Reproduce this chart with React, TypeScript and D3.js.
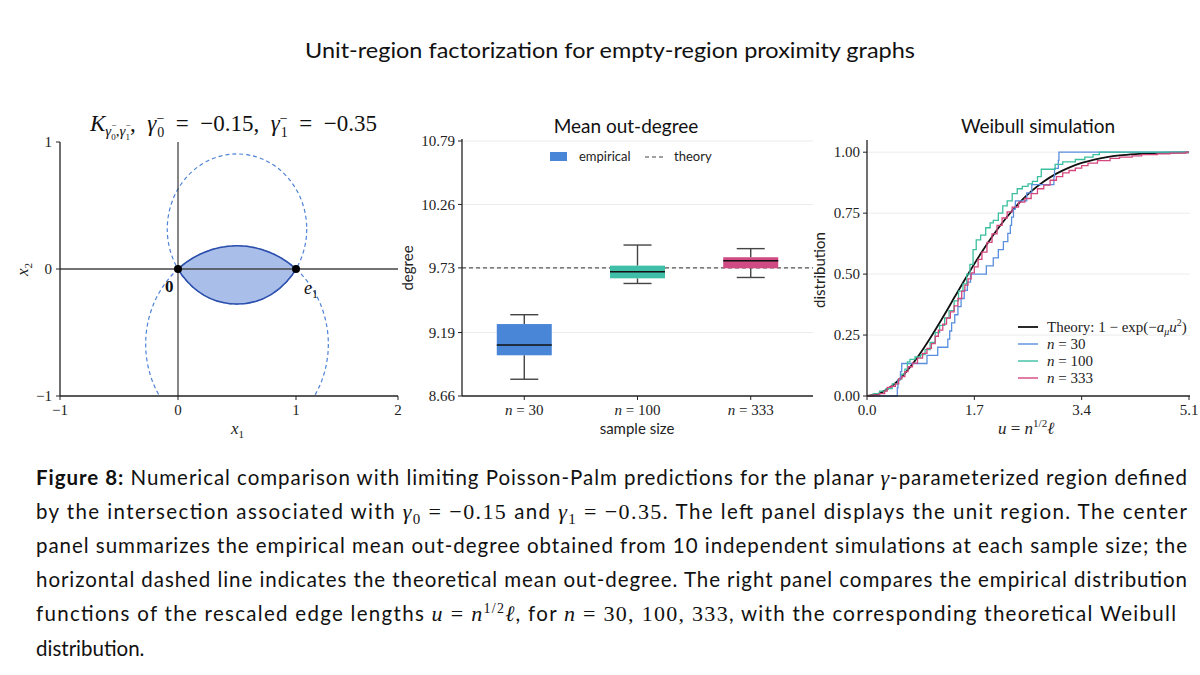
import React from 'react';
import * as d3 from 'd3';

const SERIF = '"Liberation Serif", "DejaVu Serif", serif';
const SANS = 'Lato, "Liberation Sans", sans-serif';

// ---- left panel: unit region ----
const regionXTicks = [-1, 0, 1, 2];
const regionYTicks = [-1, 0, 1];
// the two dashed circles through 0 and e1 (centre, radius)
const circleCenters: [number, number][] = [[0.5, 0.315], [0.5, -0.591]];
const circleRadii = [0.591, 0.774];
const regionPoints: [number, number][] = [[0, 0], [1, 0]];

// ---- centre panel: mean out-degree ----
const sampleSizes = ['30', '100', '333'];
const whiskerLow = [8.8, 9.6, 9.65];
const boxQ1 = [9.0, 9.643, 9.727];
const boxMedian = [9.086, 9.698, 9.79];
const boxQ3 = [9.261, 9.749, 9.819];
const whiskerHigh = [9.339, 9.921, 9.891];
const degreeTicks = [8.66, 9.19, 9.73, 10.26, 10.79];
const theoryDegree = 9.73;
const boxColors = ['#4a86d8', '#3fbfa7', '#d04a84'];

// ---- right panel: Weibull simulation ----
const distXTicks = [0, 1.7, 3.4, 5.1];
const distYTicks = [0, 0.25, 0.5, 0.75, 1];
const theoryCurve: [number, number][] = [
  [0, 0], [0.2, 0.011], [0.4, 0.042], [0.6, 0.093], [0.8, 0.159], [1.0, 0.237],
  [1.2, 0.322], [1.4, 0.411], [1.6, 0.499], [1.8, 0.583], [2.0, 0.66], [2.2, 0.729],
  [2.4, 0.789], [2.6, 0.839], [2.8, 0.88], [3.0, 0.912], [3.2, 0.937], [3.4, 0.956],
  [3.6, 0.97], [3.8, 0.98], [4.0, 0.987], [4.3, 0.993], [4.6, 0.997], [5.1, 0.999]
];
const edgeLengths30 = [
  0.48, 0.49, 0.53, 0.55, 0.95, 1.12, 1.28, 1.31, 1.34, 1.39, 1.44, 1.49, 1.54, 1.59, 1.64,
  1.89, 2.0, 2.08, 2.16, 2.23, 2.27, 2.29, 2.32, 2.35, 2.53, 2.61, 2.96, 2.97, 3.03, 3.04
];
const ecdf100: [number, number][] = [
  [0, 0], [0.1, 0.01], [0.2, 0.02], [0.3, 0.03], [0.4, 0.05], [0.5, 0.07], [0.55, 0.09],
  [0.6, 0.11], [0.64, 0.14], [0.68, 0.15], [0.76, 0.16], [0.85, 0.17], [0.92, 0.19],
  [1.0, 0.22], [1.08, 0.26], [1.15, 0.29], [1.23, 0.32], [1.3, 0.35], [1.38, 0.39],
  [1.45, 0.43], [1.52, 0.46], [1.58, 0.5], [1.63, 0.54], [1.68, 0.6], [1.73, 0.64],
  [1.8, 0.66], [1.88, 0.69], [1.95, 0.71], [2.0, 0.72], [2.08, 0.75], [2.15, 0.78],
  [2.22, 0.8], [2.3, 0.83], [2.38, 0.85], [2.46, 0.86], [2.55, 0.87], [2.62, 0.88],
  [2.7, 0.9], [2.76, 0.93], [2.98, 0.95], [3.1, 0.96], [3.3, 0.97], [3.45, 0.98],
  [3.58, 0.99], [3.68, 1.0], [5.1, 1.0]
];
const ecdf333: [number, number][] = [
  [0, 0], [0.1, 0.005], [0.2, 0.01], [0.28, 0.02], [0.32, 0.035], [0.38, 0.04], [0.45, 0.05],
  [0.5, 0.07], [0.55, 0.08], [0.6, 0.1], [0.65, 0.12], [0.72, 0.135], [0.8, 0.155],
  [0.88, 0.175], [0.95, 0.195], [1.02, 0.215], [1.08, 0.245], [1.13, 0.27], [1.2, 0.295],
  [1.26, 0.32], [1.32, 0.345], [1.38, 0.37], [1.44, 0.4], [1.5, 0.43], [1.55, 0.455],
  [1.6, 0.48], [1.65, 0.505], [1.7, 0.53], [1.76, 0.56], [1.82, 0.59], [1.9, 0.63],
  [1.98, 0.665], [2.06, 0.7], [2.14, 0.73], [2.22, 0.755], [2.3, 0.775], [2.4, 0.795],
  [2.5, 0.81], [2.6, 0.83], [2.7, 0.85], [2.8, 0.865], [2.9, 0.885], [3.0, 0.9],
  [3.1, 0.915], [3.2, 0.925], [3.3, 0.935], [3.4, 0.945], [3.5, 0.955], [3.65, 0.965],
  [3.85, 0.975], [4.0, 0.98], [4.2, 0.985], [4.35, 0.99], [4.6, 0.993], [4.8, 0.996],
  [5.05, 1.0], [5.1, 1.0]
];
const ecdfColors = ['#5a8fe0', '#3bbf9f', '#d4467c'];

const fmtMinus = (v: number, digits = 0) => d3.format(`.${digits}f`)(v).replace('-', '−');

export default function App() {
  // scales (the left x axis is squeezed between 1 and 2 in the original)
  const xL = d3.scaleLinear().domain([-1, 1, 2]).range([60, 296, 398]);
  const yL = d3.scaleLinear().domain([-1, 1]).range([396, 142]);
  const xC = d3.scalePoint<string>().domain(sampleSizes).range([462, 813]).padding(0.55);
  const yC = d3.scaleLinear().domain([8.66, 10.79]).range([396, 141]);
  const xR = d3.scaleLinear().domain([0, 5.1]).range([867, 1189]);
  const yR = d3.scaleLinear().domain([0, 1.05]).range([396, 140]);

  const unitX = xL(1) - xL(0);
  const ellipses = circleCenters.map((c, i) => ({
    cx: xL(c[0]),
    cy: yL(c[1]),
    rx: unitX * circleRadii[i],
    ry: yL(0) - yL(circleRadii[i])
  }));

  const line = d3.line<[number, number]>().x(d => xR(d[0])).y(d => yR(d[1]));
  const stepLine = line.curve(d3.curveStepAfter);
  const ecdf30: [number, number][] = [
    [0, 0],
    ...edgeLengths30.map((v, i) => [v, (i + 1) / edgeLengths30.length] as [number, number]),
    [5.1, 1]
  ];
  const stepPaths = [ecdf30, ecdf100, ecdf333].map(s => stepLine(s) || '');
  const theoryPath = d3.line<[number, number]>()
    .x(d => xR(d[0])).y(d => yR(d[1]))
    .curve(d3.curveMonotoneX)(theoryCurve) || '';

  const bw = 55;
  const capW = 28;
  const capY = [485, 519, 553, 587, 621, 656];
  const CS = 20.5;
  const ty = 131;
  const sp = '\u2002';

  return (
    <svg width={1200} height={675} style={{ position: 'absolute', left: 0, top: 0, background: '#fff' }}>
      <rect width={1200} height={675} fill="#fff" />
      <defs>
        <clipPath id="plotL"><rect x={60} y={142} width={338} height={254} /></clipPath>
        {ellipses.map((e, i) => (
          <clipPath id={`circ${i}`} key={i}><ellipse cx={e.cx} cy={e.cy} rx={e.rx} ry={e.ry} /></clipPath>
        ))}
      </defs>

      {/* main title */}
      <text x={610} y={58} textAnchor="middle" fontFamily={SANS} fontSize={22} textLength={610}
        lengthAdjust="spacingAndGlyphs" fill="#111">
        Unit-region factorization for empty-region proximity graphs
      </text>

      {/* ================= left panel ================= */}
      <text y={ty} x={90} fontFamily={SERIF} fontSize={23} fill="#111">
        <tspan fontStyle="italic">K</tspan>
        <tspan fontStyle="italic" fontSize={15} y={ty + 5}>γ</tspan>
        <tspan fontSize={9} y={ty - 3}>−</tspan>
        <tspan fontSize={9} dx={-5} y={ty + 9}>0</tspan>
        <tspan fontSize={15} y={ty + 5}>,</tspan>
        <tspan fontStyle="italic" fontSize={15} y={ty + 5}>γ</tspan>
        <tspan fontSize={9} y={ty - 3}>−</tspan>
        <tspan fontSize={9} dx={-5} y={ty + 9}>1</tspan>
        <tspan y={ty}>{`,${sp}`}</tspan>
        <tspan fontStyle="italic">γ</tspan>
        <tspan fontSize={14} y={ty - 8}>−</tspan>
        <tspan fontSize={14} dx={-7} y={ty + 6}>0</tspan>
        <tspan y={ty}>{`${sp}=${sp}−0.15,${sp}`}</tspan>
        <tspan fontStyle="italic">γ</tspan>
        <tspan fontSize={14} y={ty - 8}>−</tspan>
        <tspan fontSize={14} dx={-7} y={ty + 6}>1</tspan>
        <tspan y={ty}>{`${sp}=${sp}−0.35`}</tspan>
      </text>

      {ellipses.map((e, i) => (
        <ellipse key={`d${i}`} cx={e.cx} cy={e.cy} rx={e.rx} ry={e.ry} fill="none"
          stroke="#4f83d6" strokeWidth={1.2} strokeDasharray="4 3" clipPath="url(#plotL)" />
      ))}
      <ellipse cx={ellipses[0].cx} cy={ellipses[0].cy} rx={ellipses[0].rx} ry={ellipses[0].ry}
        fill="#a9bee9" clipPath="url(#circ1)" />
      <ellipse cx={ellipses[0].cx} cy={ellipses[0].cy} rx={ellipses[0].rx} ry={ellipses[0].ry}
        fill="none" stroke="#2c4eac" strokeWidth={1.6} clipPath="url(#circ1)" />
      <ellipse cx={ellipses[1].cx} cy={ellipses[1].cy} rx={ellipses[1].rx} ry={ellipses[1].ry}
        fill="none" stroke="#2c4eac" strokeWidth={1.6} clipPath="url(#circ0)" />

      <line x1={xL(-1)} x2={xL(2)} y1={yL(0)} y2={yL(0)} stroke="#444" strokeWidth={1.3} />
      <line x1={xL(0)} x2={xL(0)} y1={yL(-1)} y2={yL(1)} stroke="#444" strokeWidth={1.3} />

      {regionPoints.map((p, i) => (
        <circle key={i} cx={xL(p[0])} cy={yL(p[1])} r={4} fill="#000" />
      ))}
      <text x={xL(0) - 13} y={yL(0) + 23} fontFamily={SERIF} fontWeight="bold" fontSize={17} fill="#111">0</text>
      <text x={xL(1) + 8} y={yL(0) + 25} fontFamily={SERIF} fontSize={18} fill="#111">
        <tspan fontStyle="italic">e</tspan>
        <tspan fontSize={12} y={yL(0) + 29}>1</tspan>
      </text>

      <line x1={60} x2={60} y1={142} y2={396} stroke="#222" strokeWidth={1.3} />
      <line x1={60} x2={398} y1={396} y2={396} stroke="#222" strokeWidth={1.3} />
      {regionYTicks.map(t => (
        <g key={`ly${t}`}>
          <line x1={56} x2={60} y1={yL(t)} y2={yL(t)} stroke="#222" />
          <text x={52} y={yL(t)} dy="0.35em" textAnchor="end" fontFamily={SERIF} fontSize={15} fill="#222">{fmtMinus(t)}</text>
        </g>
      ))}
      {regionXTicks.map(t => (
        <g key={`lx${t}`}>
          <line x1={xL(t)} x2={xL(t)} y1={396} y2={400} stroke="#222" />
          <text x={xL(t)} y={415} textAnchor="middle" fontFamily={SERIF} fontSize={15} fill="#222">{fmtMinus(t)}</text>
        </g>
      ))}
      <text x={231} y={434} fontFamily={SERIF} fontSize={17} fill="#222">
        <tspan fontStyle="italic">x</tspan><tspan fontSize={11} y={438}>1</tspan>
      </text>
      <text transform="translate(28,276) rotate(-90)" x={0} y={0} fontFamily={SERIF} fontSize={17} fill="#222">
        <tspan fontStyle="italic">x</tspan><tspan fontSize={11} y={4}>2</tspan>
      </text>

      {/* ================= centre panel ================= */}
      <text x={626} y={133} textAnchor="middle" fontFamily={SANS} fontSize={19} fill="#111">Mean out-degree</text>
      {degreeTicks.slice(1).map(t => (
        <line key={`gc${t}`} x1={462} x2={813} y1={yC(t)} y2={yC(t)} stroke="#ececec" strokeWidth={1} />
      ))}
      <line x1={462} x2={813} y1={yC(theoryDegree)} y2={yC(theoryDegree)} stroke="#555" strokeWidth={1.2} strokeDasharray="4 3" />
      {sampleSizes.map((s, i) => {
        const cx = xC(s) || 0;
        return (
          <g key={`box${s}`}>
            <line x1={cx} x2={cx} y1={yC(whiskerLow[i])} y2={yC(boxQ1[i])} stroke="#444" strokeWidth={1.4} />
            <line x1={cx} x2={cx} y1={yC(boxQ3[i])} y2={yC(whiskerHigh[i])} stroke="#444" strokeWidth={1.4} />
            <line x1={cx - capW / 2} x2={cx + capW / 2} y1={yC(whiskerLow[i])} y2={yC(whiskerLow[i])} stroke="#444" strokeWidth={1.4} />
            <line x1={cx - capW / 2} x2={cx + capW / 2} y1={yC(whiskerHigh[i])} y2={yC(whiskerHigh[i])} stroke="#444" strokeWidth={1.4} />
            <rect x={cx - bw / 2} y={yC(boxQ3[i])} width={bw} height={yC(boxQ1[i]) - yC(boxQ3[i])} fill={boxColors[i]} />
            <line x1={cx - bw / 2} x2={cx + bw / 2} y1={yC(boxMedian[i])} y2={yC(boxMedian[i])} stroke="#111" strokeWidth={1.5} />
          </g>
        );
      })}
      <line x1={462} x2={462} y1={139} y2={396} stroke="#222" strokeWidth={1.3} />
      <line x1={462} x2={813} y1={396} y2={396} stroke="#222" strokeWidth={1.3} />
      {degreeTicks.map(t => (
        <g key={`cy${t}`}>
          <line x1={458} x2={462} y1={yC(t)} y2={yC(t)} stroke="#222" />
          <text x={455} y={yC(t)} dy="0.35em" textAnchor="end" fontFamily={SERIF} fontSize={15} fill="#222">{t.toFixed(2)}</text>
        </g>
      ))}
      {sampleSizes.map(s => (
        <g key={`cx${s}`}>
          <line x1={xC(s)} x2={xC(s)} y1={396} y2={400} stroke="#222" />
          <text x={xC(s)} y={415} textAnchor="middle" fontFamily={SERIF} fontSize={15} fill="#222">
            <tspan fontStyle="italic">n</tspan>{` = ${s}`}
          </text>
        </g>
      ))}
      <text x={637} y={434} textAnchor="middle" fontFamily={SANS} fontSize={15} fill="#222">sample size</text>
      <text transform="translate(413,268) rotate(-90)" textAnchor="middle" fontFamily={SANS} fontSize={15} fill="#222">degree</text>
      <rect x={550} y={152} width={17} height={9} fill={boxColors[0]} />
      <text x={579} y={161} fontFamily={SANS} fontSize={13} fill="#222">empirical</text>
      <line x1={645} x2={663} y1={157} y2={157} stroke="#444" strokeWidth={1.2} strokeDasharray="4 3" />
      <text x={674} y={161} fontFamily={SANS} fontSize={13} fill="#222">theory</text>

      {/* ================= right panel ================= */}
      <text x={1038} y={133} textAnchor="middle" fontFamily={SANS} fontSize={19} fill="#111">Weibull simulation</text>
      {distYTicks.slice(1).map(t => (
        <line key={`gr${t}`} x1={867} x2={1190} y1={yR(t)} y2={yR(t)} stroke="#ececec" strokeWidth={1} />
      ))}
      <path d={theoryPath} fill="none" stroke="#111" strokeWidth={1.8} />
      {stepPaths.map((p, i) => (
        <path key={`e${i}`} d={p} fill="none" stroke={ecdfColors[i]} strokeWidth={1.3} />
      ))}
      <line x1={867} x2={867} y1={140} y2={396} stroke="#222" strokeWidth={1.3} />
      <line x1={867} x2={1190} y1={396} y2={396} stroke="#222" strokeWidth={1.3} />
      {distYTicks.map(t => (
        <g key={`ry${t}`}>
          <line x1={863} x2={867} y1={yR(t)} y2={yR(t)} stroke="#222" />
          <text x={860} y={yR(t)} dy="0.35em" textAnchor="end" fontFamily={SERIF} fontSize={15} fill="#222">{t.toFixed(2)}</text>
        </g>
      ))}
      {distXTicks.map(t => (
        <g key={`rx${t}`}>
          <line x1={xR(t)} x2={xR(t)} y1={396} y2={400} stroke="#222" />
          <text x={xR(t)} y={415} textAnchor="middle" fontFamily={SERIF} fontSize={15} fill="#222">{t.toFixed(1)}</text>
        </g>
      ))}
      <text x={998} y={434} fontFamily={SERIF} fontSize={17} fill="#222">
        <tspan fontStyle="italic">u</tspan>{' = '}<tspan fontStyle="italic">n</tspan>
        <tspan fontSize={11} y={427}>1/2</tspan>
        <tspan fontStyle="italic" y={434}>ℓ</tspan>
      </text>
      <text transform="translate(825,270) rotate(-90)" textAnchor="middle" fontFamily={SANS} fontSize={15} fill="#222">distribution</text>

      {/* legend */}
      {['Theory', 'n30', 'n100', 'n333'].map((k, i) => {
        const y = 327 + i * 17;
        return (
          <g key={k}>
            <line x1={1018} x2={1038} y1={y} y2={y} stroke={i === 0 ? '#111' : ecdfColors[i - 1]} strokeWidth={i === 0 ? 1.8 : 1.4} />
            {i === 0 ? (
              <text x={1047} y={y + 5} fontFamily={SERIF} fontSize={15} fill="#222">
                {'Theory:  1 − exp(−'}<tspan fontStyle="italic">a</tspan>
                <tspan fontStyle="italic" fontSize={10} y={y + 8}>μ</tspan>
                <tspan fontStyle="italic" y={y + 5}>u</tspan>
                <tspan fontSize={10} y={y - 1}>2</tspan>
                <tspan y={y + 5}>)</tspan>
              </text>
            ) : (
              <text x={1047} y={y + 5} fontFamily={SERIF} fontSize={15} fill="#222">
                <tspan fontStyle="italic">n</tspan>{` = ${sampleSizes[i - 1]}`}
              </text>
            )}
          </g>
        );
      })}

      {/* ================= caption ================= */}
      <g fontFamily={SANS} fontSize={CS} fill="#111">
        <text x={36} y={capY[0]} textLength={1151} lengthAdjust="spacing">
          <tspan fontWeight="bold">Figure 8:</tspan>
          {'  Numerical comparison with limiting Poisson-Palm predictions for the planar '}
          <tspan fontFamily={SERIF} fontStyle="italic" fontSize={22}>γ</tspan>
          {'-parameterized region defined'}
        </text>
        <text x={36} y={capY[1]} textLength={1151} lengthAdjust="spacing">
          {'by the intersection associated with '}
          <tspan fontFamily={SERIF} fontStyle="italic" fontSize={22}>γ</tspan>
          <tspan fontFamily={SERIF} fontSize={15} y={capY[1] + 5}>0</tspan>
          <tspan fontFamily={SERIF} fontSize={22} y={capY[1]}>{' = −0.15 '}</tspan>
          {'and '}
          <tspan fontFamily={SERIF} fontStyle="italic" fontSize={22}>γ</tspan>
          <tspan fontFamily={SERIF} fontSize={15} y={capY[1] + 5}>1</tspan>
          <tspan fontFamily={SERIF} fontSize={22} y={capY[1]}>{' = −0.35'}</tspan>
          {'.  The left panel displays the unit region.  The center'}
        </text>
        <text x={36} y={capY[2]} textLength={1151} lengthAdjust="spacing">
          panel summarizes the empirical mean out-degree obtained from 10 independent simulations at each sample size;  the
        </text>
        <text x={36} y={capY[3]} textLength={1151} lengthAdjust="spacing">
          horizontal dashed line indicates the theoretical mean out-degree.  The right panel compares the empirical distribution
        </text>
        <text x={36} y={capY[4]} textLength={1140} lengthAdjust="spacing">
          {'functions of the rescaled edge lengths '}
          <tspan fontFamily={SERIF} fontStyle="italic" fontSize={22}>u</tspan>
          <tspan fontFamily={SERIF} fontSize={22}>{' = '}</tspan>
          <tspan fontFamily={SERIF} fontStyle="italic" fontSize={22}>n</tspan>
          <tspan fontFamily={SERIF} fontSize={14} y={capY[4] - 8}>1/2</tspan>
          <tspan fontFamily={SERIF} fontStyle="italic" fontSize={22} y={capY[4]}>ℓ</tspan>
          {', for '}
          <tspan fontFamily={SERIF} fontStyle="italic" fontSize={22}>n</tspan>
          <tspan fontFamily={SERIF} fontSize={22}>{' = 30, 100, 333'}</tspan>
          {', with the corresponding theoretical Weibull'}
        </text>
        <text x={36} y={capY[5]}>distribution.</text>
      </g>
    </svg>
  );
}
